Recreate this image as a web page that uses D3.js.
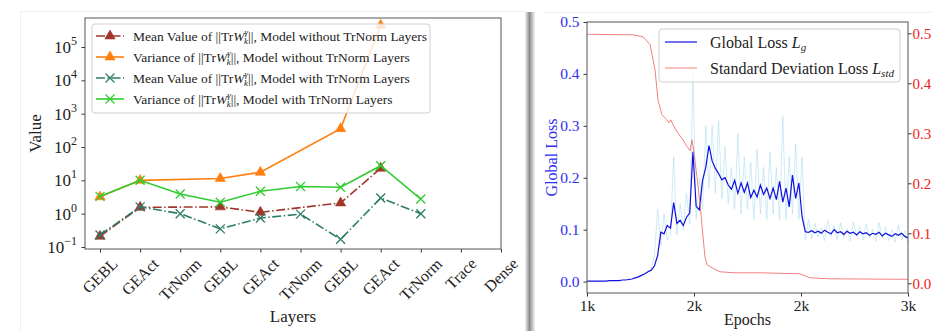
<!DOCTYPE html>
<html>
<head>
<meta charset="utf-8">
<script src="https://cdn.jsdelivr.net/npm/d3@7"></script>
<style>
    body { margin: 0; background: #fff; }
    svg text { font-family: "Liberation Serif", "DejaVu Serif", serif; }
</style>
</head>
<body>
<div id="chart"></div>
<script>
// ---- left panel data: norm of TrW per layer (log scale) ----
const layerLabels = ["GEBL", "GEAct", "TrNorm", "GEBL", "GEAct", "TrNorm", "GEBL", "GEAct", "TrNorm", "Trace", "Dense"];
const meanNoNorm = [0.21, 1.55, null, 1.6, 1.1, null, 2.1, 23, null, null, null];
const varNoNorm = [3.2, 10, null, 11.3, 17.5, null, 355, 450000, null, null, null];
const meanWithNorm = [0.23, 1.6, 1.0, 0.35, 0.74, 0.97, 0.17, 2.95, 1.0, null, null];
const varWithNorm = [3.3, 10, 3.9, 2.2, 4.7, 6.5, 6.2, 27.5, 2.75, null, null];
const seriesPrefix = ["Mean Value of ", "Variance of ", "Mean Value of ", "Variance of "];
const seriesSuffix = ["Model without TrNorm Layers", "Model without TrNorm Layers", "Model with TrNorm Layers", "Model with TrNorm Layers"];
const logTicks = [-1, 0, 1, 2, 3, 4, 5];

// ---- right panel data: losses over epochs ----
const LOSS_START = 1000, LOSS_STEP = 20;
const globalLoss = [
    0.001, 0.001, 0.001, 0.001, 0.001, 0.001, 0.001, 0.002, 0.002, 0.002, 0.002, 0.003, 0.003, 0.004, 0.005,
    0.007, 0.009, 0.012, 0.015, 0.019, 0.022, 0.03, 0.05,
    0.095, 0.092, 0.108, 0.103, 0.152, 0.112, 0.118, 0.108, 0.124, 0.132,
    0.25, 0.145, 0.138, 0.195, 0.22, 0.262, 0.232, 0.218, 0.208, 0.196,
    0.2, 0.186, 0.178, 0.195, 0.17, 0.19, 0.172, 0.19, 0.162, 0.176,
    0.163, 0.186, 0.168, 0.18, 0.16, 0.18, 0.158, 0.193, 0.153, 0.18,
    0.144, 0.205, 0.16, 0.19, 0.125, 0.096, 0.095,
    0.098, 0.094, 0.097, 0.093, 0.099, 0.095, 0.092, 0.1, 0.094, 0.096, 0.091, 0.097, 0.093, 0.095, 0.09, 0.096,
    0.092, 0.094, 0.089, 0.093, 0.091, 0.095, 0.088, 0.093, 0.09, 0.087, 0.092, 0.089, 0.093, 0.087, 0.084
];
const RAW_START = 1400;
const rawLoss = [
    0.025, 0.05, 0.14, 0.07, 0.13, 0.08, 0.09, 0.24, 0.09, 0.15,
    0.1, 0.17, 0.11, 0.4, 0.12, 0.2, 0.14, 0.3, 0.18, 0.3,
    0.17, 0.31, 0.16, 0.26, 0.15, 0.22, 0.14, 0.285, 0.13, 0.24,
    0.14, 0.23, 0.12, 0.255, 0.13, 0.22, 0.12, 0.25, 0.13, 0.22,
    0.12, 0.318, 0.12, 0.24, 0.13, 0.265, 0.12, 0.24, 0.08, 0.12,
    0.082, 0.112, 0.086, 0.104, 0.079, 0.118, 0.088, 0.108, 0.081, 0.113, 0.085, 0.102, 0.078, 0.115, 0.087, 0.106,
    0.08, 0.111, 0.084, 0.101, 0.077, 0.114, 0.083, 0.105, 0.079, 0.1, 0.076, 0.109, 0.081, 0.098, 0.074
];
const stdEpochs = [1000, 1287, 1349, 1393, 1424, 1442, 1467, 1498, 1510, 1522, 1536, 1561, 1598, 1629, 1642, 1654, 1667,
    1685, 1704, 1723, 1735, 1748, 1779, 1829, 1922, 2078, 2202, 2327, 2358, 2389, 2514, 3000];
const stdLoss = [0.498, 0.497, 0.493, 0.477, 0.427, 0.367, 0.337, 0.327, 0.321, 0.327, 0.317, 0.303, 0.287, 0.271, 0.265, 0.287, 0.26,
    0.213, 0.16, 0.093, 0.053, 0.037, 0.031, 0.023, 0.021, 0.021, 0.02, 0.019, 0.015, 0.011, 0.009, 0.008];
const epochTicks = [1000, 1000 + 2000 / 3, 1000 + 4000 / 3, 3000];

const SVG = d3.select("#chart").append("svg")
    .attr("width", 932)
    .attr("height", 331);

// faint subfigure borders and separator shadow
SVG.append("rect").attr("x", 20.5).attr("y", 11.5).attr("width", 505).attr("height", 330)
    .attr("fill", "none").attr("stroke", "#f0f0f0");
SVG.append("line").attr("x1", 543).attr("x2", 932).attr("y1", 12.5).attr("y2", 12.5).attr("stroke", "#f0f0f0");
const defs = SVG.append("defs");
const grad = defs.append("linearGradient").attr("id", "shadow");
grad.append("stop").attr("offset", "0%").attr("stop-color", "#f4f4f4");
grad.append("stop").attr("offset", "45%").attr("stop-color", "#8c8c8c");
grad.append("stop").attr("offset", "60%").attr("stop-color", "#a8a8a8");
grad.append("stop").attr("offset", "100%").attr("stop-color", "#f6f6f6");
SVG.append("rect").attr("x", 525).attr("y", 12).attr("width", 10).attr("height", 319).attr("fill", "url(#shadow)");

// ================= LEFT PANEL =================
const LP = { left: 85, right: 501, top: 18, bottom: 249 };
const xL = d3.scaleLinear().domain([-0.374, 10]).range([LP.left, LP.right]);
const yL = d3.scaleLog().domain([Math.pow(10, -1.06), Math.pow(10, 5.87)]).range([LP.bottom, LP.top]);

const axL = SVG.append("g").attr("transform", "translate(0," + LP.bottom + ")")
    .call(d3.axisBottom(xL).tickValues(d3.range(layerLabels.length)).tickSize(3.5).tickFormat(""));
axL.select(".domain").remove();
axL.selectAll("line").attr("stroke", "#333");

layerLabels.forEach((lab, i) => {
    const t = SVG.append("text")
        .attr("font-size", 16)
        .attr("fill", "#222")
        .attr("text-anchor", "middle")
        .attr("dominant-baseline", "central")
        .text(lab);
    const w = t.node().getComputedTextLength();
    const side = (w + 16 * 1.05) * Math.SQRT1_2;
    t.attr("transform", "translate(" + xL(i) + "," + (LP.bottom + 6 + side / 2) + ") rotate(-45)");
});

const ayL = SVG.append("g").attr("transform", "translate(" + LP.left + ",0)")
    .call(d3.axisLeft(yL).tickValues(logTicks.map(e => Math.pow(10, e))).tickSize(3.5).tickFormat(""));
ayL.select(".domain").remove();
ayL.selectAll("line").attr("stroke", "#333");

logTicks.forEach(e => {
    const t = SVG.append("text")
        .attr("x", LP.left - 8)
        .attr("y", yL(Math.pow(10, e)) + 6)
        .attr("text-anchor", "end")
        .attr("fill", "#222")
        .attr("font-size", 17);
    t.append("tspan").text("10");
    t.append("tspan").attr("font-size", 12).attr("dy", -8).text(e < 0 ? "\u2212" + (-e) : String(e));
});

SVG.append("text")
    .attr("transform", "translate(35," + ((LP.top + LP.bottom) / 2) + ") rotate(-90)")
    .attr("text-anchor", "middle")
    .attr("dominant-baseline", "central")
    .attr("font-size", 17)
    .attr("fill", "#222")
    .text("Value");
SVG.append("text")
    .attr("x", (LP.left + LP.right) / 2)
    .attr("y", 322)
    .attr("text-anchor", "middle")
    .attr("font-size", 17)
    .attr("fill", "#222")
    .text("Layers");

const leftSeries = [
    { vals: meanNoNorm, color: "#a0352a", dash: "9,2.5,1.5,2.5", marker: "tri" },
    { vals: varNoNorm, color: "#ff7f0e", dash: null, marker: "tri" },
    { vals: meanWithNorm, color: "#2e7d66", dash: "9,2.5,1.5,2.5", marker: "x" },
    { vals: varWithNorm, color: "#2fcc2f", dash: null, marker: "x" }
];
const triPath = d3.symbol().type(d3.symbolTriangle).size(46)();
const xPath = "M-4.5,-4.5L4.5,4.5M-4.5,4.5L4.5,-4.5";

function drawMarker(g, kind, color) {
    if (kind === "tri") {
        g.append("path").attr("d", triPath).attr("fill", color).attr("stroke", color).attr("stroke-width", 0.6);
    } else {
        g.append("path").attr("d", xPath).attr("fill", "none").attr("stroke", color).attr("stroke-width", 1.3);
    }
}

const clipL = defs.append("clipPath").attr("id", "clipL");
clipL.append("rect").attr("x", LP.left).attr("y", LP.top).attr("width", LP.right - LP.left).attr("height", LP.bottom - LP.top);

const lineL = d3.line().x(d => xL(d.i)).y(d => yL(d.v));
const plotL = SVG.append("g").attr("clip-path", "url(#clipL)");
leftSeries.forEach(s => {
    const pts = s.vals.map((v, i) => ({ i: i, v: v })).filter(d => d.v !== null);
    plotL.append("path")
        .datum(pts)
        .attr("d", lineL)
        .attr("fill", "none")
        .attr("stroke", s.color)
        .attr("stroke-width", 1.6)
        .attr("stroke-dasharray", s.dash);
    pts.forEach(d => {
        const g = plotL.append("g").attr("transform", "translate(" + xL(d.i) + "," + yL(d.v) + ")");
        drawMarker(g, s.marker, s.color);
    });
});

SVG.append("rect")
    .attr("x", LP.left).attr("y", LP.top)
    .attr("width", LP.right - LP.left).attr("height", LP.bottom - LP.top)
    .attr("fill", "none").attr("stroke", "#555").attr("stroke-width", 1);

// legend (left)
SVG.append("rect")
    .attr("x", 92).attr("y", 24).attr("width", 338).attr("height", 89).attr("rx", 3)
    .attr("fill", "white").attr("fill-opacity", 0.8)
    .attr("stroke", "#d0d0d0");
leftSeries.forEach((s, k) => {
    const y = 36 + k * 21;
    SVG.append("line")
        .attr("x1", 96).attr("x2", 124).attr("y1", y).attr("y2", y)
        .attr("stroke", s.color).attr("stroke-width", 1.6)
        .attr("stroke-dasharray", s.dash);
    drawMarker(SVG.append("g").attr("transform", "translate(110," + y + ")"), s.marker, s.color);
    const t = SVG.append("text")
        .attr("x", 133).attr("y", y + 5)
        .attr("font-size", 13.5)
        .attr("fill", "#222");
    t.append("tspan").text(seriesPrefix[k] + "||Tr");
    t.append("tspan").attr("font-style", "italic").text("W");
    t.append("tspan").attr("font-style", "italic").attr("font-size", 9).attr("dy", -6).text("\u03b3");
    t.append("tspan").attr("font-style", "italic").attr("font-size", 9).attr("dx", -4).attr("dy", 9).text("k");
    t.append("tspan").attr("dy", -3).text("||, " + seriesSuffix[k]);
});

// ================= RIGHT PANEL =================
const RP = { left: 587, right: 908, top: 22, bottom: 293 };
const xR = d3.scaleLinear().domain([1000, 3000]).range([RP.left, RP.right]);
const yR = d3.scaleLinear().domain([-0.022, 0.5]).range([RP.bottom, RP.top]);
const yR2 = d3.scaleLinear().domain([-0.0194, 0.5226]).range([RP.bottom, RP.top]);

const clipR = defs.append("clipPath").attr("id", "clipR");
clipR.append("rect").attr("x", RP.left).attr("y", RP.top).attr("width", RP.right - RP.left).attr("height", RP.bottom - RP.top);
const plotR = SVG.append("g").attr("clip-path", "url(#clipR)");

const rawPts = rawLoss.map((v, i) => [RAW_START + i * LOSS_STEP, v]);
const gPts = globalLoss.map((v, i) => [LOSS_START + i * LOSS_STEP, v]);
const sPts = stdLoss.map((v, i) => [stdEpochs[i], v]);

plotR.append("path")
    .datum(rawPts)
    .attr("d", d3.line().x(d => xR(d[0])).y(d => yR(d[1])))
    .attr("fill", "none").attr("stroke", "#9fd8ee").attr("stroke-opacity", 0.5).attr("stroke-width", 1);
plotR.append("path")
    .datum(gPts)
    .attr("d", d3.line().x(d => xR(d[0])).y(d => yR(d[1])))
    .attr("fill", "none").attr("stroke", "#1010e0").attr("stroke-width", 1.2);
plotR.append("path")
    .datum(sPts)
    .attr("d", d3.line().x(d => xR(d[0])).y(d => yR2(d[1])))
    .attr("fill", "none").attr("stroke", "#f06a6a").attr("stroke-opacity", 0.85).attr("stroke-width", 1);

const axR = SVG.append("g").attr("transform", "translate(0," + RP.bottom + ")")
    .call(d3.axisBottom(xR).tickValues(epochTicks).tickSize(3.5).tickPadding(3)
        .tickFormat(d => Math.round(d / 1000) + "k"));
const ayR = SVG.append("g").attr("transform", "translate(" + RP.left + ",0)")
    .call(d3.axisLeft(yR).tickValues([0, 0.1, 0.2, 0.3, 0.4, 0.5]).tickSize(3.5).tickPadding(4)
        .tickFormat(d3.format(".1f")));
const ayR2 = SVG.append("g").attr("transform", "translate(" + RP.right + ",0)")
    .call(d3.axisRight(yR2).tickValues([0, 0.1, 0.2, 0.3, 0.4, 0.5]).tickSize(3.5).tickPadding(1)
        .tickFormat(d3.format(".1f")));
[axR, ayR, ayR2].forEach(a => {
    a.select(".domain").remove();
    a.selectAll("line").attr("stroke", "#333");
    a.selectAll("text").attr("font-family", "Liberation Serif").attr("font-size", 15.5);
});
axR.selectAll("text").attr("fill", "#222");
ayR.selectAll("text").attr("fill", "#3030f0");
ayR2.selectAll("text").attr("fill", "#f02020").attr("font-size", 15);

SVG.append("rect")
    .attr("x", RP.left).attr("y", RP.top)
    .attr("width", RP.right - RP.left).attr("height", RP.bottom - RP.top)
    .attr("fill", "none").attr("stroke", "#555").attr("stroke-width", 1);

SVG.append("text")
    .attr("transform", "translate(551," + ((RP.top + RP.bottom) / 2) + ") rotate(-90)")
    .attr("text-anchor", "middle")
    .attr("dominant-baseline", "central")
    .attr("font-size", 16)
    .attr("fill", "#3030f0")
    .text("Global Loss");
SVG.append("text")
    .attr("x", (RP.left + RP.right) / 2)
    .attr("y", 325)
    .attr("text-anchor", "middle")
    .attr("font-size", 16)
    .attr("fill", "#222")
    .text("Epochs");

// legend (right)
SVG.append("rect")
    .attr("x", 659).attr("y", 29).attr("width", 241).attr("height", 53).attr("rx", 3)
    .attr("fill", "white").attr("fill-opacity", 0.8)
    .attr("stroke", "#d0d0d0");
SVG.append("line").attr("x1", 665).attr("x2", 697).attr("y1", 42).attr("y2", 42)
    .attr("stroke", "#1010e0").attr("stroke-width", 1.2);
SVG.append("line").attr("x1", 665).attr("x2", 697).attr("y1", 68).attr("y2", 68)
    .attr("stroke", "#f06a6a").attr("stroke-opacity", 0.85).attr("stroke-width", 1);
const lg1 = SVG.append("text").attr("x", 710).attr("y", 48).attr("font-size", 16).attr("fill", "#222");
lg1.append("tspan").text("Global Loss ");
lg1.append("tspan").attr("font-style", "italic").text("L");
lg1.append("tspan").attr("font-style", "italic").attr("font-size", 11).attr("dy", 3).text("g");
const lg2 = SVG.append("text").attr("x", 710).attr("y", 74).attr("font-size", 16).attr("fill", "#222");
lg2.append("tspan").text("Standard Deviation Loss ");
lg2.append("tspan").attr("font-style", "italic").text("L");
lg2.append("tspan").attr("font-style", "italic").attr("font-size", 11).attr("dy", 3).text("std");
</script>
</body>
</html>
